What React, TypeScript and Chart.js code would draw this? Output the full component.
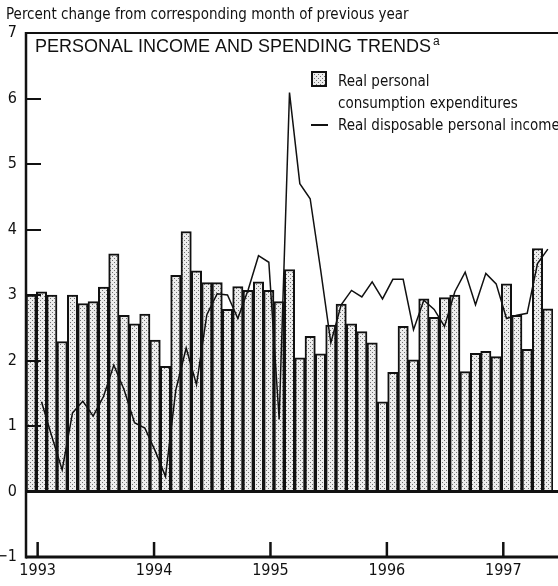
import React, { useEffect, useRef } from 'react';
import { Chart, registerables } from 'chart.js';

Chart.register(...registerables);

// Monthly categories (bars), Jan 1993 - Mar 1997
const months = [
  'Jan 1993', 'Feb 1993', 'Mar 1993', 'Apr 1993', 'May 1993', 'Jun 1993', 'Jul 1993', 'Aug 1993', 'Sep 1993', 'Oct 1993', 'Nov 1993', 'Dec 1993',
  'Jan 1994', 'Feb 1994', 'Mar 1994', 'Apr 1994', 'May 1994', 'Jun 1994', 'Jul 1994', 'Aug 1994', 'Sep 1994', 'Oct 1994', 'Nov 1994', 'Dec 1994',
  'Jan 1995', 'Feb 1995', 'Mar 1995', 'Apr 1995', 'May 1995', 'Jun 1995', 'Jul 1995', 'Aug 1995', 'Sep 1995', 'Oct 1995', 'Nov 1995', 'Dec 1995',
  'Jan 1996', 'Feb 1996', 'Mar 1996', 'Apr 1996', 'May 1996', 'Jun 1996', 'Jul 1996', 'Aug 1996', 'Sep 1996', 'Oct 1996', 'Nov 1996', 'Dec 1996',
  'Jan 1997', 'Feb 1997', 'Mar 1997',
];

// Real personal consumption expenditures (bars)
const pceGrowth = [
  3.00, 3.05, 3.00, 2.29, 3.00, 2.87, 2.90, 3.12, 3.63, 2.69, 2.56, 2.71,
  2.31, 1.91, 3.30, 3.97, 3.37, 3.19, 3.19, 2.78, 3.13, 3.07, 3.20, 3.07,
  2.90, 3.39, 2.04, 2.37, 2.10, 2.54, 2.86, 2.56, 2.44, 2.27, 1.37, 1.82,
  2.52, 2.01, 2.94, 2.66, 2.96, 3.00, 1.83, 2.11, 2.14, 2.06, 3.17, 2.69,
  2.17, 3.71, 2.79,
];

// Real disposable personal income (line)
const incomeGrowth: (number | null)[] = [
  null, 1.37, 0.84, 0.33, 1.20, 1.38, 1.15, 1.45, 1.93, 1.55, 1.05, 0.97,
  0.62, 0.23, 1.55, 2.19, 1.63, 2.70, 3.02, 3.00, 2.64, 3.08, 3.60, 3.50,
  1.10, 6.09, 4.70, 4.47, 3.40, 2.27, 2.85, 3.07, 2.97, 3.20, 2.94, 3.24,
  3.24, 2.47, 2.92, 2.78, 2.52, 3.05, 3.35, 2.85, 3.33, 3.17, 2.64, 2.69,
  2.72, 3.48, 3.70,
];

const yearTicks = [1993, 1994, 1995, 1996, 1997];
const innerTicks = [1, 2, 3, 4, 5, 6];

const titleText = 'Percent change from corresponding month of previous year';
const panelTitle = 'PERSONAL INCOME AND SPENDING TRENDS';
const panelNote = 'a';
const legendBarLines = ['Real personal', 'consumption expenditures'];
const legendLineText = 'Real disposable personal income';

const NARROW = "'Liberation Sans Narrow', 'DejaVu Sans Condensed', 'Arial Narrow', sans-serif";
const REGULAR = "'Liberation Sans', Arial, sans-serif";
const INK = '#111';

function makeStipple(): CanvasPattern | string {
  const c = document.createElement('canvas');
  c.width = 4;
  c.height = 4;
  const g = c.getContext('2d');
  if (!g) return '#d9d9d9';
  g.fillStyle = '#ededed';
  g.fillRect(0, 0, 4, 4);
  g.fillStyle = '#707070';
  g.fillRect(0, 0, 1, 1);
  g.fillRect(2, 2, 1, 1);
  return g.createPattern(c, 'repeat') || '#d9d9d9';
}

export default function App() {
  const ref = useRef<HTMLCanvasElement | null>(null);

  useEffect(() => {
    const canvas = ref.current;
    if (!canvas) return;
    const stipple = makeStipple();

    const decor = {
      id: 'decor',
      afterDatasetsDraw(chart: any) {
        const { ctx, chartArea: a, scales, width } = chart;
        const y = scales.y;
        const yr = scales.year;
        ctx.save();
        ctx.strokeStyle = INK;
        ctx.lineCap = 'butt';
        const seg = (x1: number, y1: number, x2: number, y2: number, w: number) => {
          ctx.lineWidth = w;
          ctx.beginPath();
          ctx.moveTo(x1, y1);
          ctx.lineTo(x2, y2);
          ctx.stroke();
        };
        // frame
        seg(a.left, a.top, width, a.top, 2);
        seg(a.left, a.bottom, width, a.bottom, 3);
        seg(a.left, a.top - 1, a.left, a.bottom + 1.5, 2.5);
        // zero line
        const y0 = y.getPixelForValue(0);
        seg(a.left, y0, width, y0, 3);
        // inner y ticks
        innerTicks.forEach((v) => {
          const py = Math.round(y.getPixelForValue(v));
          seg(a.left, py, a.left + 15, py, 2);
        });
        // year ticks
        yearTicks.forEach((v) => {
          const px = yr.getPixelForValue(v);
          seg(px, a.bottom, px, a.bottom - 15, 2.5);
        });

        // texts
        ctx.fillStyle = INK;
        ctx.textBaseline = 'alphabetic';
        ctx.textAlign = 'left';
        ctx.font = `15px ${NARROW}`;
        ctx.fillText(titleText, 6, 19);

        ctx.font = `18px ${REGULAR}`;
        ctx.fillText(panelTitle, 35, 52);
        const tw = ctx.measureText(panelTitle).width;
        ctx.font = `12px ${REGULAR}`;
        ctx.fillText(panelNote, 35 + tw + 2, 45);

        // legend
        ctx.fillStyle = stipple as any;
        ctx.fillRect(311, 71, 16, 16);
        ctx.lineWidth = 2;
        ctx.strokeRect(312, 72, 14, 14);
        seg(311, 125, 328, 125, 2);
        ctx.fillStyle = INK;
        ctx.font = `15px ${NARROW}`;
        ctx.fillText(legendBarLines[0], 338, 86);
        ctx.fillText(legendBarLines[1], 338, 108);
        ctx.fillText(legendLineText, 338, 130);
        ctx.restore();
      },
    };

    const chart = new Chart(canvas, {
      type: 'bar',
      data: {
        labels: months,
        datasets: [
          {
            type: 'line',
            label: legendLineText,
            data: incomeGrowth,
            borderColor: INK,
            borderWidth: 1.5,
            pointRadius: 0,
            tension: 0,
            spanGaps: false,
            order: 0,
            xAxisID: 'x',
            yAxisID: 'y',
          } as any,
          {
            type: 'bar',
            label: legendBarLines.join(' '),
            data: pceGrowth,
            backgroundColor: stipple as any,
            borderColor: INK,
            borderWidth: 2,
            barPercentage: 1,
            categoryPercentage: 1,
            order: 1,
            xAxisID: 'x',
            yAxisID: 'y',
          },
        ],
      },
      options: {
        responsive: false,
        animation: false,
        devicePixelRatio: 1,
        layout: { padding: { top: 33, right: 5, left: 0, bottom: 0 } },
        plugins: {
          legend: { display: false },
          tooltip: { enabled: false },
          title: { display: false },
        },
        scales: {
          x: {
            type: 'category',
            display: false,
            offset: true,
            grid: { display: false },
          },
          year: {
            type: 'linear',
            position: 'bottom',
            offset: false,
            bounds: 'data',
            min: 1992.9,
            max: 1997.427,
            afterFit: (s: any) => {
              s.height = 29;
            },
            afterBuildTicks: (s: any) => {
              s.ticks = yearTicks.map((v) => ({ value: v }));
            },
            ticks: {
              autoSkip: false,
              maxRotation: 0,
              padding: 4,
              color: INK,
              font: { family: NARROW, size: 16 },
              callback: (v: any) => String(v),
            },
            grid: { display: false, drawTicks: false, offset: false },
            border: { display: false },
          },
          y: {
            min: -1,
            max: 7,
            afterFit: (s: any) => {
              s.width = 26;
            },
            ticks: {
              stepSize: 1,
              padding: 9,
              color: INK,
              font: { family: NARROW, size: 16 },
              callback: (v: any) => (Number(v) < 0 ? '\u2212' + Math.abs(Number(v)) : String(v)),
            },
            grid: { display: false, drawTicks: false },
            border: { display: false },
          },
        } as any,
      },
      plugins: [decor],
    });

    return () => chart.destroy();
  }, []);

  return (
    <div style={{ position: 'absolute', left: 0, top: 0, width: 558, height: 586, background: '#fff' }}>
      <canvas ref={ref} width={558} height={586} style={{ display: 'block' }} />
    </div>
  );
}
